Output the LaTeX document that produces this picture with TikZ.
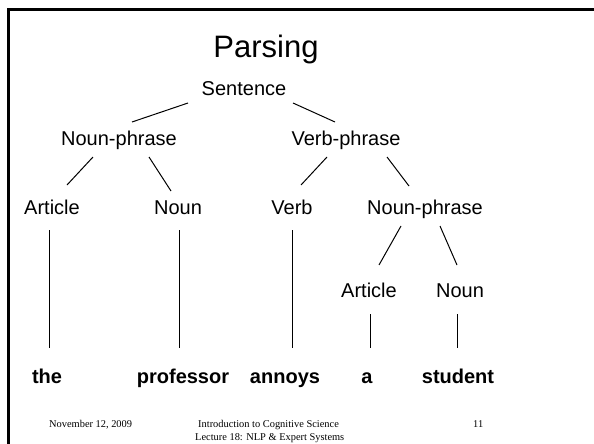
\documentclass[tikz,border=0pt]{standalone}
\usepackage{fontspec}
\setmainfont{Liberation Sans}
\newfontfamily\timesfont{Liberation Serif}
\begin{document}
\begin{tikzpicture}[x=1pt,y=-1pt,
  cat/.style={inner sep=0pt,font=\fontsize{20}{24}\selectfont},
  word/.style={inner sep=0pt,anchor=base,font=\fontsize{20}{24}\selectfont\bfseries},
  foot/.style={inner sep=0pt,font=\fontsize{10.4}{13}\selectfont\timesfont},
  branch/.style={line width=1pt},
  frame/.style={line width=3pt}]
\useasboundingbox (0,0) rectangle (594,444);
\draw[frame] (8,444) -- (8,10) -- (594,10);
\node[inner sep=0pt,anchor=base,font=\fontsize{31}{36}\selectfont] (title) at (266,57) {Parsing};
% categories (anchor base)
\node[cat,anchor=base] (s) at (244,95) {Sentence};
\node[cat,anchor=base] (np) at (119,145) {Noun-phrase};
\node[cat,anchor=base] (vp) at (346,145) {Verb-phrase};
\node[cat,anchor=base] (art) at (52,214) {Article};
\node[cat,anchor=base] (n) at (178,214) {Noun};
\node[cat,anchor=base] (v) at (292,214) {Verb};
\node[cat,anchor=base] (np2) at (425,214) {Noun-phrase};
\node[cat,anchor=base] (art2) at (369,297) {Article};
\node[cat,anchor=base] (n2) at (460,297) {Noun};
% words
\node[word] (w1) at (47,383) {the};
\node[word] (w2) at (183,383) {professor};
\node[word] (w3) at (285,383) {annoys};
\node[word] (w4) at (367,383) {a};
\node[word] (w5) at (458,383) {student};
% connectors
\coordinate (s1) at (188,103); \coordinate (np1) at (132,122);
\coordinate (s2) at (293,103); \coordinate (vp1) at (335,122);
\draw[branch] (s1) -- (np1);
\draw[branch] (s2) -- (vp1);
\coordinate (npa) at (93,157); \coordinate (arta) at (67,185);
\coordinate (npb) at (149,157); \coordinate (na) at (171,191);
\coordinate (vpa) at (327,157); \coordinate (va) at (301,185);
\coordinate (vpb) at (387,157); \coordinate (np2a) at (409,186);
\draw[branch] (npa) -- (arta);
\draw[branch] (npb) -- (na);
\draw[branch] (vpa) -- (va);
\draw[branch] (vpb) -- (np2a);
\coordinate (np2b) at (401,226); \coordinate (art2a) at (379,265);
\coordinate (np2c) at (440,226); \coordinate (n2a) at (457,265);
\draw[branch] (np2b) -- (art2a);
\draw[branch] (np2c) -- (n2a);
\coordinate (arttop) at (49,230); \coordinate (w1top) at (49,348);
\coordinate (ntop) at (179,230); \coordinate (w2top) at (179,348);
\coordinate (vtop) at (292,230); \coordinate (w3top) at (292,348);
\coordinate (art2b) at (370,314); \coordinate (w4top) at (370,348);
\coordinate (n2b) at (457,314); \coordinate (w5top) at (457,348);
\draw[branch] (arttop) -- (w1top);
\draw[branch] (ntop) -- (w2top);
\draw[branch] (vtop) -- (w3top);
\draw[branch] (art2b) -- (w4top);
\draw[branch] (n2b) -- (w5top);
% footer
\node[foot,anchor=base west] (date) at (49,427) {November 12, 2009};
\node[foot,anchor=base west,align=left] (course) at (198,440) {Introduction to Cognitive Science\\\hspace*{-3pt}Lecture 18: NLP \& Expert Systems};
\node[foot,anchor=base west] (page) at (473,427) {11};
\end{tikzpicture}
\end{document}
